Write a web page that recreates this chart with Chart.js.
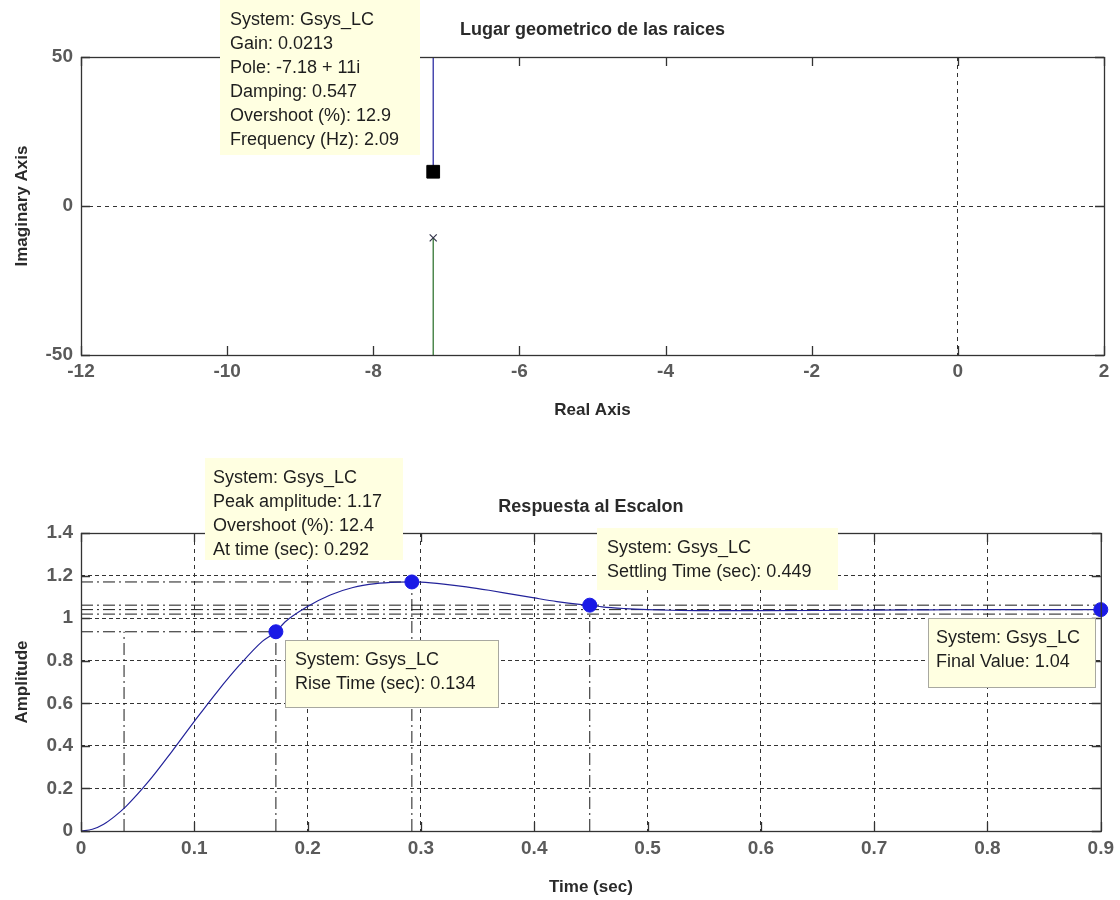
<!DOCTYPE html>
<html>
<head>
<meta charset="utf-8">
<script src="https://cdn.jsdelivr.net/npm/chart.js@4.4.0/dist/chart.umd.min.js"></script>
<style>
  html, body { margin: 0; padding: 0; background: #fff; }
  .box { position: absolute; left: 0; width: 1120px; height: 450px; }
</style>
</head>
<body>
<div class="box" style="top:0"><canvas id="rootCanvas" width="1120" height="450"></canvas></div>
<div class="box" style="top:450px"><canvas id="stepCanvas" width="1120" height="450"></canvas></div>
<script>
// ---- root locus data ----
const rlTicksX = [-12, -10, -8, -6, -4, -2, 0, 2];
const rlTicksY = [-50, 0, 50];
const upperBranchRe = [-7.18, -7.18];
const upperBranchIm = [11.5, 50];
const lowerBranchRe = [-7.18, -7.18];
const lowerBranchIm = [-10.7, -50];
const olPoleRe = [-7.18];
const olPoleIm = [-10.7];
const tipPoleRe = [-7.18];
const tipPoleIm = [11.5];

// ---- step response data ----
const stTicksX = [0, 0.1, 0.2, 0.3, 0.4, 0.5, 0.6, 0.7, 0.8, 0.9];
const stTicksY = [0, 0.2, 0.4, 0.6, 0.8, 1, 1.2, 1.4];
const stepTime = [0, 0.01, 0.02, 0.03, 0.04, 0.06, 0.08, 0.10, 0.12, 0.14, 0.16, 0.172, 0.18, 0.20,
  0.22, 0.24, 0.26, 0.28, 0.292, 0.30, 0.32, 0.34, 0.36, 0.38, 0.40, 0.42, 0.44, 0.449, 0.46, 0.48,
  0.50, 0.52, 0.55, 0.60, 0.65, 0.70, 0.75, 0.80, 0.85, 0.90];
const stepAmp = [0, 0.008, 0.032, 0.070, 0.117, 0.235, 0.372, 0.515, 0.653, 0.780, 0.891, 0.936, 0.982, 1.055,
  1.109, 1.144, 1.162, 1.169, 1.170, 1.169, 1.160, 1.147, 1.131, 1.113, 1.095, 1.078, 1.065, 1.061, 1.053, 1.045,
  1.040, 1.037, 1.035, 1.035, 1.036, 1.038, 1.039, 1.040, 1.040, 1.040];
const markerTime = [0.172, 0.292, 0.449, 0.9];
const markerAmp = [0.936, 1.17, 1.061, 1.04];
const peakTime = 0.292, peakAmp = 1.17;
const riseStart = 0.038, riseEnd = 0.172, riseLevel = 0.936;
const settleTime = 0.449, settleHi = 1.061, settleLo = 1.019;
const finalValue = 1.04, endTime = 0.9;

// ---- data tip texts ----
const rlTipText = ['System: Gsys_LC', 'Gain: 0.0213', 'Pole: -7.18 + 11i', 'Damping: 0.547', 'Overshoot (%): 12.9', 'Frequency (Hz): 2.09'];
const peakTipText = ['System: Gsys_LC', 'Peak amplitude: 1.17', 'Overshoot (%): 12.4', 'At time (sec): 0.292'];
const riseTipText = ['System: Gsys_LC', 'Rise Time (sec): 0.134'];
const settleTipText = ['System: Gsys_LC', 'Settling Time (sec): 0.449'];
const finalTipText = ['System: Gsys_LC', 'Final Value: 1.04'];

const xy = (xs, ys) => xs.map((x, i) => ({ x: x, y: ys[i] }));
const FONT = '"Liberation Sans", Arial, sans-serif';
const tickFont = { family: FONT, size: 19, weight: 'bold' };

function fmt(v) { return String(+v.toFixed(2)); }

// frame, inner tick marks, titles and data tips
function decorPlugin(cfg) {
  return {
    id: 'decor',
    afterDraw(chart) {
      const ctx = chart.ctx, a = chart.chartArea;
      const xs = chart.scales.x, ys = chart.scales.y;
      ctx.save();
      ctx.strokeStyle = '#333';
      ctx.lineWidth = 1.3;
      ctx.setLineDash([]);
      ctx.strokeRect(a.left + 0.5, a.top + 0.5, a.right - a.left, a.bottom - a.top);
      ctx.beginPath();
      xs.ticks.forEach(t => {
        const p = Math.round(xs.getPixelForValue(t.value)) + 0.5;
        ctx.moveTo(p, a.bottom); ctx.lineTo(p, a.bottom - 9);
        ctx.moveTo(p, a.top); ctx.lineTo(p, a.top + 9);
      });
      ys.ticks.forEach(t => {
        const p = Math.round(ys.getPixelForValue(t.value)) + 0.5;
        ctx.moveTo(a.left, p); ctx.lineTo(a.left + 9, p);
        ctx.moveTo(a.right, p); ctx.lineTo(a.right - 9, p);
      });
      ctx.stroke();

      // titles
      ctx.fillStyle = '#2a2a2a';
      ctx.textAlign = 'center';
      ctx.textBaseline = 'middle';
      ctx.font = 'bold 18px ' + FONT;
      ctx.fillText(cfg.title, (a.left + a.right) / 2, cfg.titleY);
      ctx.font = 'bold 17px ' + FONT;
      ctx.fillText(cfg.xTitle, (a.left + a.right) / 2, cfg.xTitleY);
      ctx.save();
      ctx.translate(22, (a.top + a.bottom) / 2);
      ctx.rotate(-Math.PI / 2);
      ctx.fillText(cfg.yTitle, 0, 0);
      ctx.restore();

      // data tips
      cfg.tips.forEach(tip => {
        ctx.fillStyle = '#ffffe1';
        ctx.fillRect(tip.x, tip.y, tip.w, tip.h);
        if (tip.border) {
          ctx.strokeStyle = '#a8a8a0';
          ctx.lineWidth = 1;
          ctx.strokeRect(tip.x + 0.5, tip.y + 0.5, tip.w, tip.h);
        }
        ctx.fillStyle = '#1e1e1e';
        ctx.textAlign = 'left';
        ctx.font = '18px ' + FONT;
        tip.text.forEach((line, i) => ctx.fillText(line, tip.x + tip.pad, tip.y + 20 + i * 24));
      });
      ctx.restore();
    }
  };
}

function lineSet(data, color, dash, width) {
  return { data: data, showLine: true, pointRadius: 0, borderColor: color, borderWidth: width || 1,
    borderDash: dash || [], fill: false };
}

// ---- root locus chart ----
new Chart(document.getElementById('rootCanvas'), {
  type: 'scatter',
  data: {
    datasets: [
      { data: xy(tipPoleRe, tipPoleIm), pointStyle: 'rect', pointRadius: 9, backgroundColor: '#000', borderColor: '#000', clip: false },
      { data: xy(olPoleRe, olPoleIm), pointStyle: 'crossRot', pointRadius: 5, borderColor: '#33344a', borderWidth: 1.2 },
      lineSet(xy(upperBranchRe, upperBranchIm), '#1c1c9c', [], 1.2),
      lineSet(xy(lowerBranchRe, lowerBranchIm), '#256b25', [], 1.2)
    ]
  },
  options: {
    responsive: false, animation: false,
    layout: { padding: { left: 0, top: 57, right: 16, bottom: 0 } },
    plugins: { legend: { display: false }, tooltip: { enabled: false } },
    scales: {
      x: {
        type: 'linear', min: -12, max: 2,
        afterBuildTicks: s => { s.ticks = rlTicksX.map(v => ({ value: v })); },
        afterFit: s => { s.height = 95; },
        ticks: { font: tickFont, color: '#5a5a5a', padding: 5, maxRotation: 0, callback: fmt },
        grid: { drawTicks: false, color: c => (c.tick && c.tick.value === 0) ? '#333' : 'transparent' },
        border: { display: false, dash: [4, 4] }
      },
      y: {
        type: 'linear', min: -50, max: 50,
        afterBuildTicks: s => { s.ticks = rlTicksY.map(v => ({ value: v })); },
        afterFit: s => { s.width = 81; },
        ticks: { font: tickFont, color: '#5a5a5a', padding: 8, callback: fmt },
        grid: { drawTicks: false, color: c => (c.tick && c.tick.value === 0) ? '#333' : 'transparent' },
        border: { display: false, dash: [4, 4] }
      }
    }
  },
  plugins: [decorPlugin({
    title: 'Lugar geometrico de las raices', titleY: 30,
    xTitle: 'Real Axis', xTitleY: 410, yTitle: 'Imaginary Axis',
    tips: [{ x: 220, y: 0, w: 200, h: 155, pad: 10, text: rlTipText }]
  })]
});

// ---- step response chart ----
const charDash = [12, 4, 2, 4];
new Chart(document.getElementById('stepCanvas'), {
  type: 'scatter',
  data: {
    datasets: [
      { data: xy(markerTime, markerAmp), pointRadius: 7, backgroundColor: '#1a1ae6', borderColor: '#1a1ae6', clip: false },
      Object.assign(lineSet(xy(stepTime, stepAmp), '#23239a', [], 1.2), { cubicInterpolationMode: 'monotone' }),
      lineSet(xy([0, peakTime], [peakAmp, peakAmp]), '#1a1a1a', charDash),
      lineSet(xy([peakTime, peakTime], [0, peakAmp]), '#1a1a1a', charDash),
      lineSet(xy([0, riseEnd], [riseLevel, riseLevel]), '#1a1a1a', charDash),
      lineSet(xy([riseStart, riseStart], [0, riseLevel]), '#1a1a1a', charDash),
      lineSet(xy([riseEnd, riseEnd], [0, riseLevel]), '#1a1a1a', charDash),
      lineSet(xy([0, endTime], [settleHi, settleHi]), '#1a1a1a', charDash),
      lineSet(xy([0, endTime], [settleLo, settleLo]), '#1a1a1a', charDash),
      lineSet(xy([settleTime, settleTime], [0, settleHi]), '#1a1a1a', charDash),
      lineSet(xy([0, endTime], [finalValue, finalValue]), '#1a1a1a', charDash)
    ]
  },
  options: {
    responsive: false, animation: false,
    layout: { padding: { left: 0, top: 83, right: 16, bottom: 0 } },
    plugins: { legend: { display: false }, tooltip: { enabled: false } },
    scales: {
      x: {
        type: 'linear', min: 0, max: 0.9,
        afterBuildTicks: s => { s.ticks = stTicksX.map(v => ({ value: v })); },
        afterFit: s => { s.height = 69; },
        ticks: { font: tickFont, color: '#5a5a5a', padding: 6, maxRotation: 0, callback: fmt },
        grid: { drawTicks: false, color: c => (c.tick && c.tick.value > 0.001 && c.tick.value < 0.899) ? '#333' : 'transparent' },
        border: { display: false, dash: [4, 4] }
      },
      y: {
        type: 'linear', min: 0, max: 1.4,
        afterBuildTicks: s => { s.ticks = stTicksY.map(v => ({ value: v })); },
        afterFit: s => { s.width = 81; },
        ticks: { font: tickFont, color: '#5a5a5a', padding: 8, callback: fmt },
        grid: { drawTicks: false, color: c => (c.tick && c.tick.value > 0.001 && c.tick.value < 1.399) ? '#333' : 'transparent' },
        border: { display: false, dash: [4, 3] }
      }
    }
  },
  plugins: [decorPlugin({
    title: 'Respuesta al Escalon', titleY: 57,
    xTitle: 'Time (sec)', xTitleY: 437, yTitle: 'Amplitude',
    tips: [
      { x: 205, y: 8, w: 198, h: 102, pad: 8, text: peakTipText },
      { x: 285, y: 190, w: 213, h: 67, pad: 10, border: true, text: riseTipText },
      { x: 597, y: 78, w: 241, h: 62, pad: 10, text: settleTipText },
      { x: 928, y: 168, w: 167, h: 69, pad: 8, border: true, text: finalTipText }
    ]
  })]
});
</script>
</body>
</html>
